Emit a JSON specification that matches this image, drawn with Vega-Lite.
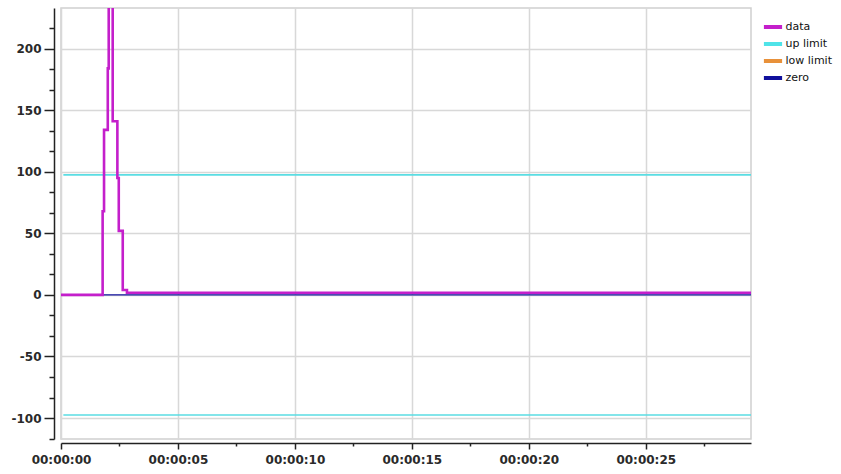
{
  "$schema": "https://vega.github.io/schema/vega-lite/v6.json",
  "width": 690,
  "height": 431,
  "autosize": {"type": "none"},
  "padding": {"left": 61, "top": 8, "right": 90, "bottom": 35},
  "background": "white",
  "config": {
    "font": "DejaVu Sans",
    "view": {"stroke": "#d0d0d0", "strokeWidth": 1.5},
    "axis": {"labelOverlap": false}
  },
  "datasets": {
    "series": [
      {"t": 0, "v": 0, "series": "data"},
      {"t": 1.78, "v": 68, "series": "data"},
      {"t": 1.84, "v": 134, "series": "data"},
      {"t": 2.0, "v": 184, "series": "data"},
      {"t": 2.04, "v": 280, "series": "data"},
      {"t": 2.21, "v": 141, "series": "data"},
      {"t": 2.41, "v": 95, "series": "data"},
      {"t": 2.47, "v": 52, "series": "data"},
      {"t": 2.64, "v": 4, "series": "data"},
      {"t": 2.82, "v": 1.8, "series": "data"},
      {"t": 29.5, "v": 1.8, "series": "data"}
    ],
    "zero": [
      {"t": 0, "v": 0, "series": "zero"},
      {"t": 29.5, "v": 0, "series": "zero"}
    ],
    "limits": [
      {"t": 0.1, "v": 97.5, "series": "up limit"},
      {"t": 29.5, "v": 97.5, "series": "up limit"},
      {"t": 0.1, "v": -97.5, "series": "low limit"},
      {"t": 29.5, "v": -97.5, "series": "low limit"}
    ]
  },
  "encoding": {
    "x": {
      "field": "t", "type": "quantitative",
      "scale": {"domain": [0, 29.5], "nice": false, "zero": false},
      "axis": {
        "title": null,
        "values": [0, 2.5, 5, 7.5, 10, 12.5, 15, 17.5, 20, 22.5, 25, 27.5],
        "labelExpr": "datum.value % 5 == 0 ? '00:00:' + (datum.value < 10 ? '0' : '') + datum.value : ''",
        "offset": 4,
        "domainColor": "#222",
        "domainWidth": 1.5,
        "tickColor": "#222",
        "tickWidth": 1.5,
        "tickSize": {"condition": {"test": "datum.value % 5 == 0", "value": 6}, "value": 3},
        "grid": true,
        "gridColor": "#d8d8d8",
        "gridWidth": 1.5,
        "gridOpacity": {"condition": {"test": "datum.value % 5 == 0", "value": 1}, "value": 0},
        "labelFont": "DejaVu Sans",
        "labelFontSize": 12,
        "labelFontWeight": "bold",
        "labelColor": "#2a2a2a",
        "labelPadding": 5,
        "labelFlush": false,
        "labelOverlap": false
      }
    },
    "y": {
      "field": "v", "type": "quantitative",
      "scale": {"domain": [-117, 233], "nice": false, "zero": false},
      "axis": {
        "title": null,
        "values": [-116.6667, -100, -83.3333, -66.6667, -50, -33.3333, -16.6667, 0, 16.6667, 33.3333, 50, 66.6667, 83.3333, 100, 116.6667, 133.3333, 150, 166.6667, 183.3333, 200, 216.6667],
        "labelExpr": "abs(datum.value % 50) < 0.01 ? toString(round(datum.value)) : ''",
        "offset": 7,
        "domainColor": "#222",
        "domainWidth": 1.5,
        "tickColor": "#222",
        "tickWidth": 1.5,
        "tickSize": {"condition": {"test": "abs(datum.value % 50) < 0.01", "value": 10}, "value": 5},
        "grid": true,
        "gridColor": "#d8d8d8",
        "gridWidth": 1.5,
        "gridOpacity": {"condition": {"test": "abs(datum.value % 50) < 0.01", "value": 1}, "value": 0},
        "labelFont": "DejaVu Sans",
        "labelFontSize": 12,
        "labelFontWeight": "bold",
        "labelColor": "#2a2a2a",
        "labelPadding": 3,
        "labelOverlap": false
      }
    }
  },
  "layer": [
    {
      "data": {"name": "limits"},
      "mark": {"type": "line", "color": "#5adde3", "strokeWidth": 1.6, "clip": true},
      "encoding": {
        "detail": {"field": "series"}
      }
    },
    {
      "data": {"name": "zero"},
      "mark": {"type": "line", "strokeWidth": 1.2, "clip": true},
      "encoding": {
        "color": {"field": "series", "type": "nominal"}
      }
    },
    {
      "data": {"name": "series"},
      "mark": {"type": "line", "interpolate": "step-after", "strokeWidth": 2.6, "clip": true},
      "encoding": {
        "color": {
          "field": "series", "type": "nominal",
          "scale": {
            "domain": ["data", "up limit", "low limit", "zero"],
            "range": ["#c41fcb", "#4fe3e8", "#e8913a", "#10109c"]
          },
          "legend": {
            "title": null,
            "orient": "none",
            "legendX": 703.5,
            "legendY": 10.5,
            "padding": 0,
            "symbolType": "M-1.4,0H1.4",
            "symbolSize": 169,
            "symbolStrokeWidth": 4,
            "labelFont": "DejaVu Sans",
            "labelFontSize": 11,
            "labelColor": "#111",
            "labelOffset": 4,
            "rowPadding": 0
          }
        }
      }
    }
  ]
}
